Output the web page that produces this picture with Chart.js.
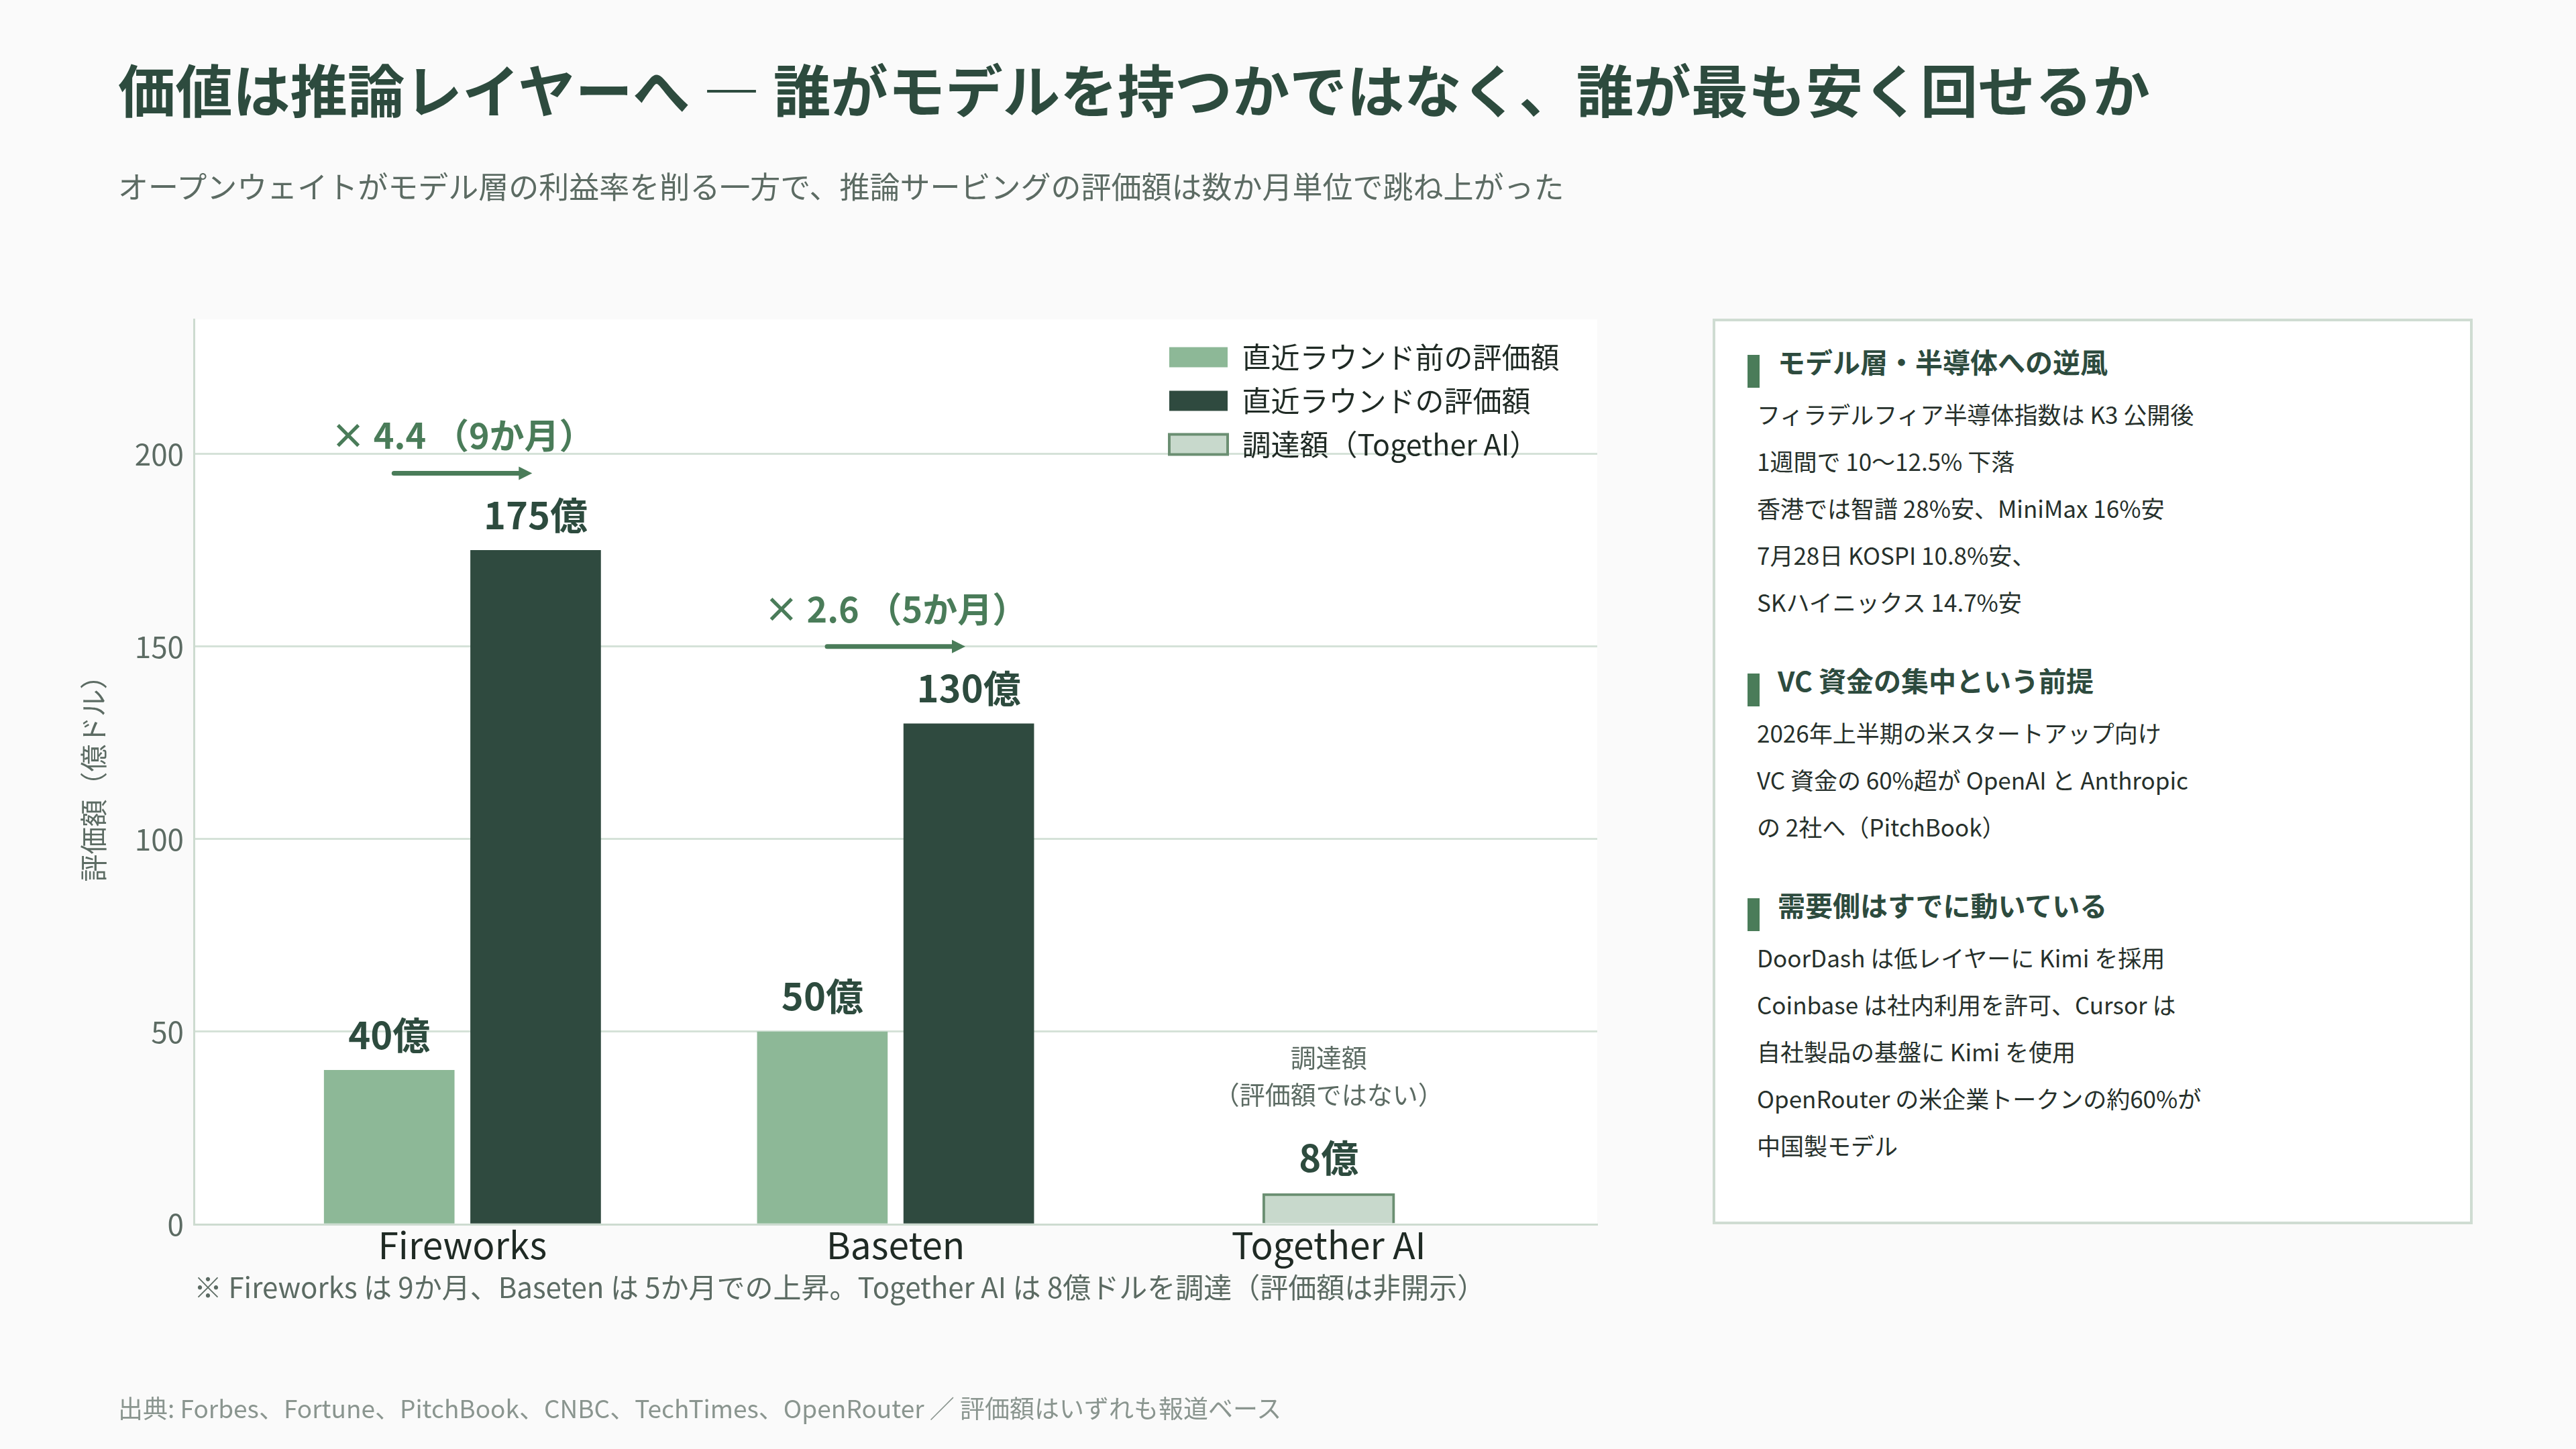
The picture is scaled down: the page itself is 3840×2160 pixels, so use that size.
<!DOCTYPE html>
<html lang="ja">
<head>
<meta charset="UTF-8" />
<title>推論レイヤーの評価額</title>
<script src="https://cdn.jsdelivr.net/npm/chart.js@4.4.1/dist/chart.umd.min.js"></script>
<style>
  html, body { margin: 0; padding: 0; }
  body {
    width: 3840px; height: 2160px; background: #fafafa; position: relative; overflow: hidden;
    font-family: "Noto Sans CJK JP", "Noto Sans", sans-serif;
  }
  #chart { position: absolute; left: 0; top: 0; }
  .title {
    position: absolute; left: 176px; top: 81px; font-size: 85.5px; font-weight: 700;
    line-height: 100px; color: #2d4b3e; white-space: nowrap;
  }
  .subtitle {
    position: absolute; left: 176px; top: 252px; font-size: 45px; line-height: 50px;
    color: #5c6b63; white-space: nowrap;
  }
  .note {
    position: absolute; left: 289px; top: 1892px; font-size: 42px; line-height: 50px;
    color: #5c6b63; white-space: nowrap;
  }
  .source {
    position: absolute; left: 176px; top: 2078px; font-size: 37px; line-height: 40px;
    color: #8a958f; white-space: nowrap;
  }
  .panel {
    position: absolute; left: 2553px; top: 475px; width: 1133px; height: 1350px;
    box-sizing: border-box; border: 4px solid #cfdcd2; background: #fff;
    padding: 29px 0 0 62px;
  }
  .sec { margin-bottom: 51px; }
  .sec h3 {
    position: relative; margin: 0 0 14px 0; padding-left: 31px;
    font-size: 41px; line-height: 60px; font-weight: 700; color: #2d4b3e; white-space: nowrap;
  }
  .sec h3::before {
    content: ""; position: absolute; left: -14px; top: 21px; width: 18px; height: 49px;
    background: #4a7c59;
  }
  .sec div { font-size: 35px; line-height: 70px; color: #26302b; white-space: nowrap; }
</style>
</head>
<body>
  <canvas id="chart" width="3840" height="2160"></canvas>

  <div class="title">価値は推論レイヤーへ — 誰がモデルを持つかではなく、誰が最も安く回せるか</div>
  <div class="subtitle">オープンウェイトがモデル層の利益率を削る一方で、推論サービングの評価額は数か月単位で跳ね上がった</div>
  <div class="note">※ Fireworks は 9か月、Baseten は 5か月での上昇。Together AI は 8億ドルを調達（評価額は非開示）</div>
  <div class="source">出典: Forbes、Fortune、PitchBook、CNBC、TechTimes、OpenRouter ／ 評価額はいずれも報道ベース</div>

  <div class="panel">
    <div class="sec">
      <h3>モデル層・半導体への逆風</h3>
      <div>フィラデルフィア半導体指数は K3 公開後</div>
      <div>1週間で 10〜12.5% 下落</div>
      <div>香港では智譜 28%安、MiniMax 16%安</div>
      <div>7月28日 KOSPI 10.8%安、</div>
      <div>SKハイニックス 14.7%安</div>
    </div>
    <div class="sec">
      <h3>VC 資金の集中という前提</h3>
      <div>2026年上半期の米スタートアップ向け</div>
      <div>VC 資金の 60%超が OpenAI と Anthropic</div>
      <div>の 2社へ（PitchBook）</div>
    </div>
    <div class="sec">
      <h3>需要側はすでに動いている</h3>
      <div>DoorDash は低レイヤーに Kimi を採用</div>
      <div>Coinbase は社内利用を許可、Cursor は</div>
      <div>自社製品の基盤に Kimi を使用</div>
      <div>OpenRouter の米企業トークンの約60%が</div>
      <div>中国製モデル</div>
    </div>
  </div>

<script>
  // data (億ドル)
  const categories = ['Fireworks', 'Baseten', 'Together AI'];
  const valuationBefore = [40, 50, null];
  const valuationLatest = [175, 130, null];
  const raisedAmount = [null, null, 8];
  const monthsToRise = [9, 5, null];
  const raisedNote = ['調達額', '（評価額ではない）'];
  const seriesNames = ['直近ラウンド前の評価額', '直近ラウンドの評価額', '調達額（Together AI）'];

  const FONT = '"Noto Sans CJK JP", "Noto Sans", sans-serif';
  const DARK = '#2d4b3e';
  const ACCENT = '#4a7c59';
  const GREY = '#5c6b63';
  const PAIR_SHIFT = 0.169;  // half distance between the two bars of a pair, in category units

  Chart.defaults.font.family = FONT;

  // bars sit side by side around each category index
  function toPoints(values, shift) {
    return categories
      .map((c, i) => ({ x: i + shift, y: values[i] }))
      .filter(p => p.y != null);
  }

  const plotBackground = {
    id: 'plotBackground',
    beforeDraw(chart) {
      const a = chart.chartArea, ctx = chart.ctx;
      ctx.save();
      ctx.fillStyle = '#ffffff';
      ctx.fillRect(a.left, a.top, a.right - a.left, a.bottom - a.top);
      ctx.restore();
    }
  };

  // legend goes to the top right corner of the plot
  const legendPlacer = {
    id: 'legendPlacer',
    afterLayout(chart) {
      const lg = chart.legend, a = chart.chartArea;
      const w = lg.width, h = lg.height;
      lg.left = a.left + 1432;
      lg.right = lg.left + w;
      lg.top = a.top + 13;
      lg.bottom = lg.top + h;
    }
  };

  const annotations = {
    id: 'annotations',
    afterDatasetsDraw(chart) {
      const ctx = chart.ctx;
      const xs = chart.scales.x, ys = chart.scales.y;
      ctx.save();
      ctx.textAlign = 'center';
      ctx.textBaseline = 'middle';

      // value labels
      ctx.fillStyle = DARK;
      ctx.font = `700 56px ${FONT}`;
      chart.data.datasets.forEach((ds, di) => {
        chart.getDatasetMeta(di).data.forEach((bar, i) => {
          ctx.fillText(`${ds.data[i].y}億`, bar.x, bar.y - 53);
        });
      });

      // growth multiple + arrow
      categories.forEach((c, i) => {
        if (monthsToRise[i] == null) return;
        const cx = xs.getPixelForValue(i);
        const top = ys.getPixelForValue(valuationLatest[i]);
        const ratio = (valuationLatest[i] / valuationBefore[i]).toFixed(1);
        ctx.fillStyle = ACCENT;
        ctx.font = `700 52px ${FONT}`;
        ctx.fillText(`× ${ratio} （${monthsToRise[i]}か月）`, cx, top - 171);

        const ay = top - 115;
        ctx.strokeStyle = ACCENT;
        ctx.lineWidth = 7;
        ctx.lineCap = 'round';
        ctx.beginPath();
        ctx.moveTo(cx - 102, ay);
        ctx.lineTo(cx + 86, ay);
        ctx.stroke();
        ctx.beginPath();
        ctx.moveTo(cx + 104, ay);
        ctx.lineTo(cx + 84, ay - 10);
        ctx.lineTo(cx + 84, ay + 10);
        ctx.closePath();
        ctx.fill();
      });

      // note above the funding bar
      categories.forEach((c, i) => {
        if (raisedAmount[i] == null) return;
        const cx = xs.getPixelForValue(i);
        const top = ys.getPixelForValue(raisedAmount[i]);
        ctx.fillStyle = GREY;
        ctx.font = `400 38px ${FONT}`;
        ctx.fillText(raisedNote[0], cx, top - 203);
        ctx.fillText(raisedNote[1], cx, top - 148);
      });
      ctx.restore();
    }
  };

  new Chart(document.getElementById('chart'), {
    type: 'bar',
    data: {
      datasets: [
        {
          label: seriesNames[0],
          data: toPoints(valuationBefore, -PAIR_SHIFT),
          backgroundColor: '#8db897',
          borderWidth: 0,
          grouped: false,
          barThickness: 194
        },
        {
          label: seriesNames[1],
          data: toPoints(valuationLatest, PAIR_SHIFT),
          backgroundColor: '#2f4a3f',
          borderWidth: 0,
          grouped: false,
          barThickness: 194
        },
        {
          label: seriesNames[2],
          data: toPoints(raisedAmount, 0),
          backgroundColor: '#c8d9cc',
          borderColor: '#6b8f72',
          borderWidth: 4,
          grouped: false,
          barThickness: 197
        }
      ]
    },
    options: {
      responsive: false,
      animation: false,
      devicePixelRatio: 1,
      layout: { padding: { left: 110, top: 476, right: 1459, bottom: 235 } },
      scales: {
        x: {
          type: 'linear', position: 'bottom',
          min: -0.62, max: 2.62, offset: false,
          grid: { display: false, offset: false },
          border: { display: true, color: '#cddbd0', width: 3 },
          ticks: {
            stepSize: 1, includeBounds: false, padding: -10, autoSkip: false,
            color: '#1f2a24', font: { size: 55 },
            callback: v => categories[v] ?? ''
          },
          afterFit: s => { s.height = 100; }
        },
        y: {
          min: 0, max: 235,
          grid: { color: '#d5e2d8', lineWidth: 3, drawTicks: false },
          border: { display: true, color: '#cddbd0', width: 3 },
          ticks: { stepSize: 50, includeBounds: false, padding: 15, color: GREY, font: { size: 44 } },
          title: {
            display: true, text: '評価額（億ドル）', color: GREY,
            font: { size: 41 }, padding: { top: 5, bottom: 0 }
          },
          afterFit: s => { s.width = 179; }
        }
      },
      plugins: {
        legend: {
          position: 'chartArea',
          align: 'start',
          labels: {
            boxWidth: 87, boxHeight: 30, padding: 22,
            color: '#1f2a24', font: { size: 43 }
          }
        },
        tooltip: { enabled: false }
      }
    },
    plugins: [plotBackground, legendPlacer, annotations]
  });
</script>
</body>
</html>
